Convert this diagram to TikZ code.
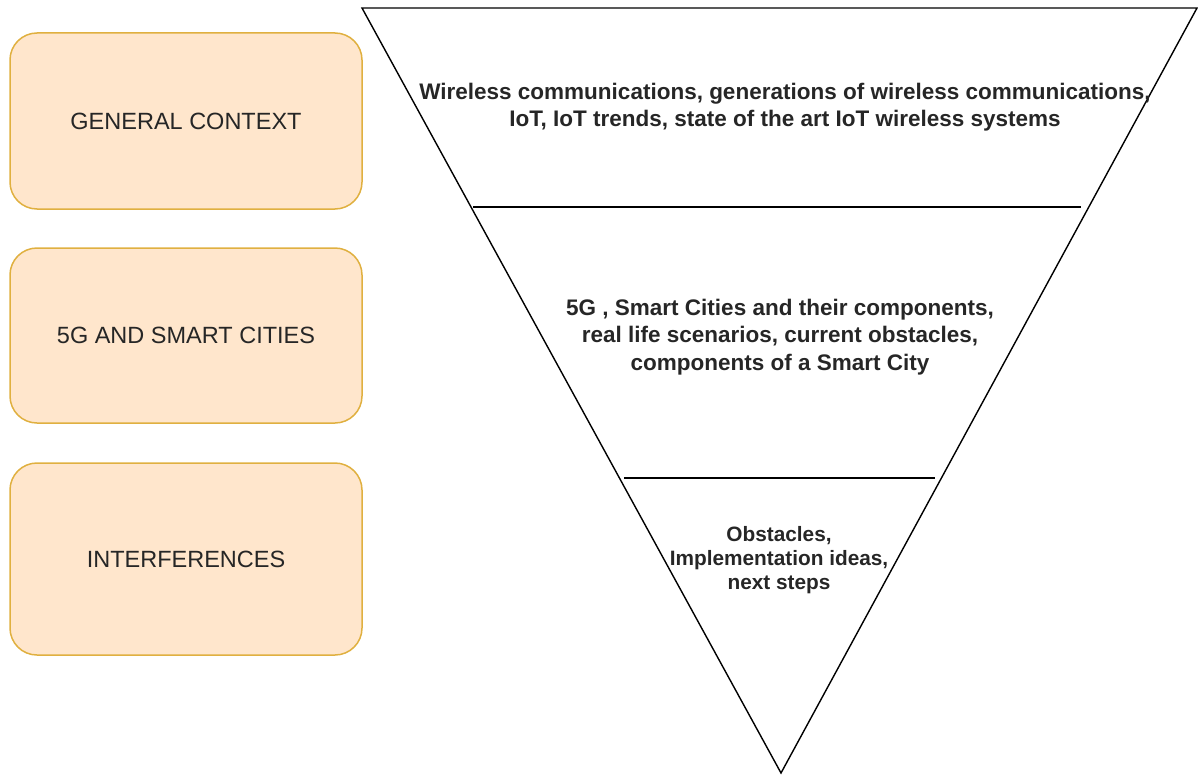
\documentclass[tikz,border=0pt]{standalone}
\usepackage{fontspec}
\setmainfont{Liberation Sans}
\usepackage{tikz}
\usetikzlibrary{shapes,arrows}
\definecolor{boxfill}{HTML}{FFE6CC}
\definecolor{boxdraw}{HTML}{E0B040}
\definecolor{txt}{HTML}{262626}
\tikzstyle{topic} = [draw=boxdraw, line width=1.5pt, fill=boxfill, rounded corners=27pt, minimum width=352pt, text=txt, font=\fontsize{23.5}{28}\selectfont]
\tikzstyle{level} = [align=center, text=txt, font=\bfseries\fontsize{22.5}{27.5}\selectfont]

\begin{document}
\begin{tikzpicture}[x=1pt, y=-1pt]
	\useasboundingbox (0, 0) rectangle (1198, 776);

	% nodes
	\node[topic, minimum height=176pt] (A) at (186, 121) {GENERAL CONTEXT};
	\node[topic, minimum height=175pt] (B) at (186, 335.5) {5G AND SMART CITIES};
	\node[topic, minimum height=192pt] (C) at (186, 559) {INTERFERENCES};

	% funnel
	\draw [line width=1.4pt, line join=miter] (362, 8) -- (1197, 8) -- (781, 773) -- cycle;
	\draw [line width=1.4pt] (473, 207) -- (1081, 207);
	\draw [line width=1.4pt] (624, 478) -- (935, 478);

	\node[level] (D) at (785, 107) {Wireless communications, generations of wireless communications,\\IoT, IoT trends, state of the art IoT wireless systems};
	\node[level] (E) at (780, 337) {5G , Smart Cities and their components,\\real life scenarios, current obstacles,\\components of a Smart City};
	\node[level, font=\bfseries\fontsize{20.8}{24}\selectfont] (F) at (779, 560) {Obstacles,\\Implementation ideas,\\next steps};

\end{tikzpicture}
\end{document}
